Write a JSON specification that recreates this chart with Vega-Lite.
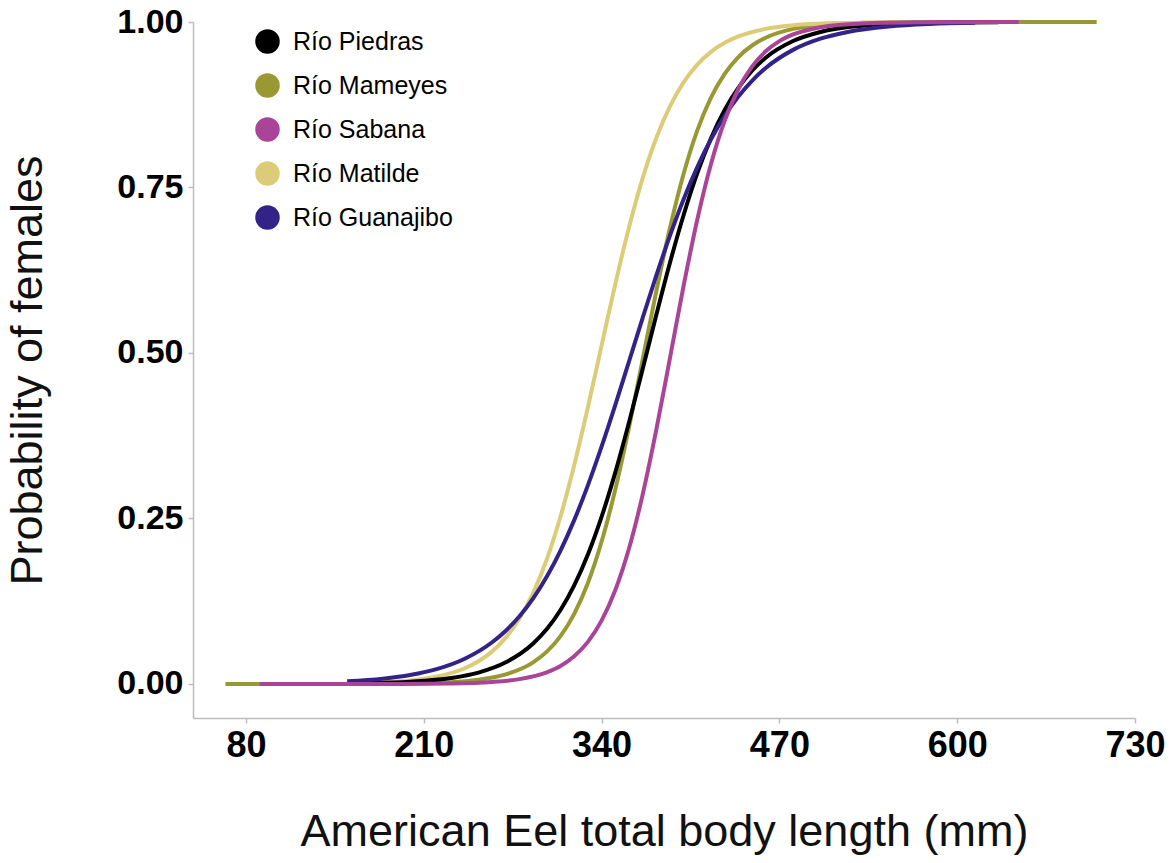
{
  "$schema": "https://vega.github.io/schema/vega-lite/v6.json",
  "width": 942,
  "height": 696,
  "autosize": {"type": "none"},
  "padding": {"left": 193, "top": 22, "right": 39, "bottom": 145},
  "background": "white",
  "config": {
    "view": {"stroke": null},
    "axis": {
      "grid": false,
      "domainColor": "#BDBDBD",
      "domainWidth": 1.5,
      "tickColor": "#BDBDBD",
      "tickWidth": 1.5,
      "tickSize": 5,
      "labelPadding": 5,
      "labelFlush": false,
      "labelFont": "Liberation Sans",
      "labelFontWeight": "bold",
      "labelColor": "#000000",
      "titleFont": "Liberation Sans",
      "titleFontWeight": "normal",
      "titleColor": "#111111",
      "titleFontSize": 45
    }
  },
  "data": {
    "values": [
      {"river": "Río Mameyes", "length": 65, "p": 0},
      {"river": "Río Mameyes", "length": 150, "p": 0.0001},
      {"river": "Río Mameyes", "length": 200, "p": 0.00079},
      {"river": "Río Mameyes", "length": 230, "p": 0.00275},
      {"river": "Río Mameyes", "length": 250, "p": 0.00632},
      {"river": "Río Mameyes", "length": 270, "p": 0.01445},
      {"river": "Río Mameyes", "length": 290, "p": 0.0327},
      {"river": "Río Mameyes", "length": 300, "p": 0.0489},
      {"river": "Río Mameyes", "length": 310, "p": 0.0724},
      {"river": "Río Mameyes", "length": 320, "p": 0.106},
      {"river": "Río Mameyes", "length": 330, "p": 0.1526},
      {"river": "Río Mameyes", "length": 340, "p": 0.2148},
      {"river": "Río Mameyes", "length": 350, "p": 0.2936},
      {"river": "Río Mameyes", "length": 360, "p": 0.387},
      {"river": "Río Mameyes", "length": 370, "p": 0.4896},
      {"river": "Río Mameyes", "length": 380, "p": 0.593},
      {"river": "Río Mameyes", "length": 390, "p": 0.6887},
      {"river": "Río Mameyes", "length": 400, "p": 0.7707},
      {"river": "Río Mameyes", "length": 410, "p": 0.8362},
      {"river": "Río Mameyes", "length": 420, "p": 0.8857},
      {"river": "Río Mameyes", "length": 430, "p": 0.9217},
      {"river": "Río Mameyes", "length": 440, "p": 0.9471},
      {"river": "Río Mameyes", "length": 450, "p": 0.9645},
      {"river": "Río Mameyes", "length": 460, "p": 0.9763},
      {"river": "Río Mameyes", "length": 480, "p": 0.9896},
      {"river": "Río Mameyes", "length": 500, "p": 0.9955},
      {"river": "Río Mameyes", "length": 530, "p": 0.9987},
      {"river": "Río Mameyes", "length": 570, "p": 0.9998},
      {"river": "Río Mameyes", "length": 620, "p": 1},
      {"river": "Río Mameyes", "length": 702, "p": 1},

      {"river": "Río Matilde", "length": 160, "p": 0.0012},
      {"river": "Río Matilde", "length": 200, "p": 0.00538},
      {"river": "Río Matilde", "length": 220, "p": 0.01135},
      {"river": "Río Matilde", "length": 240, "p": 0.0238},
      {"river": "Río Matilde", "length": 250, "p": 0.0343},
      {"river": "Río Matilde", "length": 260, "p": 0.0491},
      {"river": "Río Matilde", "length": 270, "p": 0.07},
      {"river": "Río Matilde", "length": 280, "p": 0.0988},
      {"river": "Río Matilde", "length": 290, "p": 0.1376},
      {"river": "Río Matilde", "length": 300, "p": 0.1887},
      {"river": "Río Matilde", "length": 310, "p": 0.253},
      {"river": "Río Matilde", "length": 320, "p": 0.3303},
      {"river": "Río Matilde", "length": 330, "p": 0.418},
      {"river": "Río Matilde", "length": 340, "p": 0.5112},
      {"river": "Río Matilde", "length": 350, "p": 0.6037},
      {"river": "Río Matilde", "length": 360, "p": 0.6893},
      {"river": "Río Matilde", "length": 370, "p": 0.7637},
      {"river": "Río Matilde", "length": 380, "p": 0.8247},
      {"river": "Río Matilde", "length": 390, "p": 0.8727},
      {"river": "Río Matilde", "length": 400, "p": 0.9089},
      {"river": "Río Matilde", "length": 410, "p": 0.9356},
      {"river": "Río Matilde", "length": 420, "p": 0.9549},
      {"river": "Río Matilde", "length": 430, "p": 0.9686},
      {"river": "Río Matilde", "length": 440, "p": 0.9782},
      {"river": "Río Matilde", "length": 460, "p": 0.9896},
      {"river": "Río Matilde", "length": 480, "p": 0.9951},
      {"river": "Río Matilde", "length": 510, "p": 0.9984},
      {"river": "Río Matilde", "length": 560, "p": 0.9998},

      {"river": "Río Piedras", "length": 170, "p": 0.00126},
      {"river": "Río Piedras", "length": 200, "p": 0.00336},
      {"river": "Río Piedras", "length": 230, "p": 0.00897},
      {"river": "Río Piedras", "length": 250, "p": 0.01718},
      {"river": "Río Piedras", "length": 270, "p": 0.0327},
      {"river": "Río Piedras", "length": 290, "p": 0.0612},
      {"river": "Río Piedras", "length": 300, "p": 0.083},
      {"river": "Río Piedras", "length": 310, "p": 0.1117},
      {"river": "Río Piedras", "length": 320, "p": 0.1488},
      {"river": "Río Piedras", "length": 330, "p": 0.1955},
      {"river": "Río Piedras", "length": 340, "p": 0.2524},
      {"river": "Río Piedras", "length": 350, "p": 0.3193},
      {"river": "Río Piedras", "length": 360, "p": 0.3946},
      {"river": "Río Piedras", "length": 370, "p": 0.4753},
      {"river": "Río Piedras", "length": 380, "p": 0.5573},
      {"river": "Río Piedras", "length": 390, "p": 0.6363},
      {"river": "Río Piedras", "length": 400, "p": 0.7085},
      {"river": "Río Piedras", "length": 410, "p": 0.7716},
      {"river": "Río Piedras", "length": 420, "p": 0.8244},
      {"river": "Río Piedras", "length": 430, "p": 0.8671},
      {"river": "Río Piedras", "length": 440, "p": 0.9006},
      {"river": "Río Piedras", "length": 450, "p": 0.9265},
      {"river": "Río Piedras", "length": 460, "p": 0.946},
      {"river": "Río Piedras", "length": 480, "p": 0.9712},
      {"river": "Río Piedras", "length": 500, "p": 0.9849},
      {"river": "Río Piedras", "length": 530, "p": 0.9943},
      {"river": "Río Piedras", "length": 560, "p": 0.9979},
      {"river": "Río Piedras", "length": 600, "p": 0.9994},
      {"river": "Río Piedras", "length": 630, "p": 0.9998},

      {"river": "Río Guanajibo", "length": 154, "p": 0.00404},
      {"river": "Río Guanajibo", "length": 180, "p": 0.00802},
      {"river": "Río Guanajibo", "length": 200, "p": 0.01355},
      {"river": "Río Guanajibo", "length": 220, "p": 0.02278},
      {"river": "Río Guanajibo", "length": 240, "p": 0.0381},
      {"river": "Río Guanajibo", "length": 260, "p": 0.063},
      {"river": "Río Guanajibo", "length": 270, "p": 0.0805},
      {"river": "Río Guanajibo", "length": 280, "p": 0.1024},
      {"river": "Río Guanajibo", "length": 290, "p": 0.1294},
      {"river": "Río Guanajibo", "length": 300, "p": 0.1623},
      {"river": "Río Guanajibo", "length": 310, "p": 0.2016},
      {"river": "Río Guanajibo", "length": 320, "p": 0.2475},
      {"river": "Río Guanajibo", "length": 330, "p": 0.3},
      {"river": "Río Guanajibo", "length": 340, "p": 0.3584},
      {"river": "Río Guanajibo", "length": 350, "p": 0.4212},
      {"river": "Río Guanajibo", "length": 360, "p": 0.4868},
      {"river": "Río Guanajibo", "length": 370, "p": 0.5528},
      {"river": "Río Guanajibo", "length": 380, "p": 0.6169},
      {"river": "Río Guanajibo", "length": 390, "p": 0.6772},
      {"river": "Río Guanajibo", "length": 400, "p": 0.7322},
      {"river": "Río Guanajibo", "length": 410, "p": 0.7808},
      {"river": "Río Guanajibo", "length": 420, "p": 0.8228},
      {"river": "Río Guanajibo", "length": 430, "p": 0.8581},
      {"river": "Río Guanajibo", "length": 440, "p": 0.8874},
      {"river": "Río Guanajibo", "length": 450, "p": 0.9112},
      {"river": "Río Guanajibo", "length": 460, "p": 0.9305},
      {"river": "Río Guanajibo", "length": 480, "p": 0.9579},
      {"river": "Río Guanajibo", "length": 500, "p": 0.9748},
      {"river": "Río Guanajibo", "length": 520, "p": 0.985},
      {"river": "Río Guanajibo", "length": 550, "p": 0.9931},
      {"river": "Río Guanajibo", "length": 580, "p": 0.9969},
      {"river": "Río Guanajibo", "length": 613, "p": 0.9987},

      {"river": "Río Sabana", "length": 90, "p": 0},
      {"river": "Río Sabana", "length": 180, "p": 0.00009},
      {"river": "Río Sabana", "length": 230, "p": 0.00081},
      {"river": "Río Sabana", "length": 260, "p": 0.00305},
      {"river": "Río Sabana", "length": 280, "p": 0.00736},
      {"river": "Río Sabana", "length": 300, "p": 0.01767},
      {"river": "Río Sabana", "length": 310, "p": 0.0272},
      {"river": "Río Sabana", "length": 320, "p": 0.0418},
      {"river": "Río Sabana", "length": 330, "p": 0.0636},
      {"river": "Río Sabana", "length": 340, "p": 0.0957},
      {"river": "Río Sabana", "length": 350, "p": 0.1415},
      {"river": "Río Sabana", "length": 360, "p": 0.2042},
      {"river": "Río Sabana", "length": 370, "p": 0.2856},
      {"river": "Río Sabana", "length": 380, "p": 0.3837},
      {"river": "Río Sabana", "length": 390, "p": 0.4922},
      {"river": "Río Sabana", "length": 400, "p": 0.6016},
      {"river": "Río Sabana", "length": 410, "p": 0.7016},
      {"river": "Río Sabana", "length": 420, "p": 0.7855},
      {"river": "Río Sabana", "length": 430, "p": 0.8508},
      {"river": "Río Sabana", "length": 440, "p": 0.8988},
      {"river": "Río Sabana", "length": 450, "p": 0.9326},
      {"river": "Río Sabana", "length": 460, "p": 0.9557},
      {"river": "Río Sabana", "length": 470, "p": 0.9711},
      {"river": "Río Sabana", "length": 480, "p": 0.9812},
      {"river": "Río Sabana", "length": 500, "p": 0.9922},
      {"river": "Río Sabana", "length": 530, "p": 0.9979},
      {"river": "Río Sabana", "length": 570, "p": 0.9996},
      {"river": "Río Sabana", "length": 645, "p": 1}
    ]
  },
  "encoding": {
    "x": {
      "field": "length",
      "type": "quantitative",
      "scale": {"domain": [41.3, 730], "nice": false, "zero": false},
      "axis": {
        "values": [80, 210, 340, 470, 600, 730],
        "format": "d",
        "labelFontSize": 36,
        "title": "American Eel total body length (mm)",
        "titleY": 127,
        "titleBaseline": "alphabetic"
      }
    },
    "y": {
      "field": "p",
      "type": "quantitative",
      "scale": {"domain": [-0.0514, 1.0], "nice": false, "zero": false},
      "axis": {
        "values": [0, 0.25, 0.5, 0.75, 1],
        "format": ".2f",
        "labelFontSize": 34,
        "title": "Probability of females",
        "titleX": -152,
        "titleY": 348,
        "titleAngle": -90,
        "titleAlign": "center",
        "titleBaseline": "alphabetic"
      }
    },
    "color": {
      "field": "river",
      "type": "nominal",
      "scale": {
        "domain": ["Río Piedras", "Río Mameyes", "Río Sabana", "Río Matilde", "Río Guanajibo"],
        "range": ["#000000", "#999933", "#AA4499", "#DDCC77", "#332288"]
      },
      "legend": {
        "orient": "none",
        "legendX": 62,
        "legendY": 7,
        "padding": 0,
        "title": null,
        "symbolType": "circle",
        "symbolSize": 600,
        "symbolStrokeWidth": 0,
        "labelFont": "Liberation Sans",
        "labelFontSize": 25,
        "labelColor": "#000000",
        "labelOffset": 13,
        "rowPadding": 18,
        "encode": {
          "symbols": {"update": {"fill": {"scale": "color", "field": "value"}, "fillOpacity": {"value": 1}, "opacity": {"value": 1}}}
        }
      }
    }
  },
  "layer": [
    {"transform": [{"filter": "datum.river === 'Río Mameyes'"}], "mark": {"type": "line", "strokeWidth": 4, "interpolate": "monotone"}},
    {"transform": [{"filter": "datum.river === 'Río Matilde'"}], "mark": {"type": "line", "strokeWidth": 4, "interpolate": "monotone"}},
    {"transform": [{"filter": "datum.river === 'Río Piedras'"}], "mark": {"type": "line", "strokeWidth": 4, "interpolate": "monotone"}},
    {"transform": [{"filter": "datum.river === 'Río Guanajibo'"}], "mark": {"type": "line", "strokeWidth": 4, "interpolate": "monotone"}},
    {"transform": [{"filter": "datum.river === 'Río Sabana'"}], "mark": {"type": "line", "strokeWidth": 4, "interpolate": "monotone"}}
  ]
}
